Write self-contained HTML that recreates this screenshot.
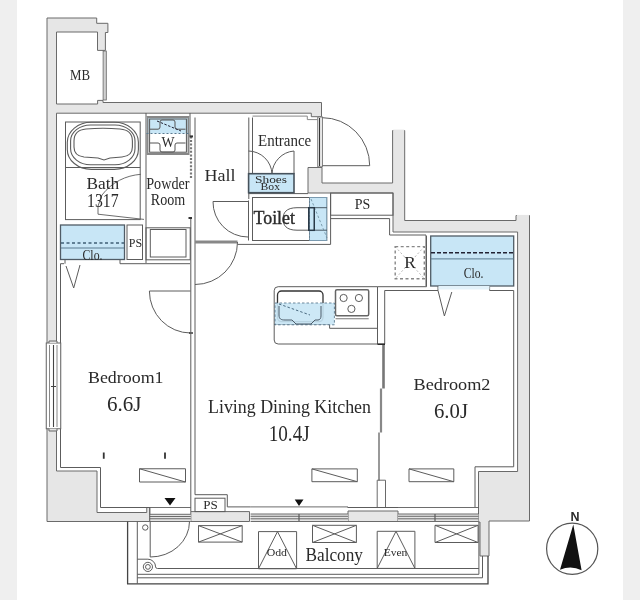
<!DOCTYPE html>
<html><head><meta charset="utf-8">
<style>
html,body{margin:0;padding:0;background:#fff;}
body{width:640px;height:600px;overflow:hidden;position:relative;}
svg{position:absolute;left:0;top:0;display:block;}
text{font-family:"Liberation Serif",serif;fill:#2a2a2a;}
.tx{filter:grayscale(1);}
</style></head><body>
<svg width="640" height="600" viewBox="0 0 640 600">
<rect x="0" y="0" width="640" height="600" fill="#fff"/>
<rect x="0" y="0" width="17" height="600" fill="#efefef"/>
<rect x="623" y="0" width="17" height="600" fill="#efefef"/>
<g fill="#e6e6e6" stroke="#6a6a6a" stroke-width="1">

<path d="M47,18 H96.7 V23.3 H107.9 V32.5 H105.4 V50.4 H97.5 V32 H56.5 V104 H97.6 V100.4 H103 V102.5 H321.5 V116.7 H317.2 H311.3 V113.2 H56.5 V471 H97 V512.5 H146.75 V507.5 H149.75 V521.5 H47 Z"/>
<path d="M308,167.5 H322 V183 H392.6 V130.5 H404.7 V220.5 H516 V215.5 H529.5 V521 H489 V556 H480 V522 H478.5 V471.5 H517.6 V232 H393 V193 H308 Z"/>
<path d="M190.8,511.6 H249.5 V521.5 H190.8 Z"/>
<path d="M348,511 H398 V521.5 H348 Z"/>
<path d="M377.2,480.2 H385.5 V507.5 H377.2 Z" fill="#fff"/>
<rect x="393.2" y="129.6" width="11" height="1.6" fill="#e6e6e6" stroke="none"/>
<rect x="516.8" y="214.9" width="12.2" height="1.6" fill="#e6e6e6" stroke="none"/>

</g>
<g fill="none" stroke="#5c5c5c" stroke-width="1">

<!-- MB door strip -->
<rect x="103.1" y="51" width="3.2" height="49" fill="#d0d0d0" stroke="#666" stroke-width="0.8"/>
<!-- bath -->
<rect x="65.5" y="122" width="74.7" height="97.6"/>
<path d="M65.5,167.5 H140.2"/>
<rect x="67.3" y="122.3" width="71.1" height="47.1" rx="24" ry="20" stroke-width="1.1"/>
<rect x="70.6" y="125" width="64.4" height="39.8" rx="20" ry="16" stroke-width="1.1"/>
<path d="M86,129 Q103,127.5 120,129 Q132.4,130 132.4,141 V147 Q132.4,156 122,157 L110,158 L104,160 L98,158 L84,157 Q74,156 74,147 V141 Q74,130 86,129 Z" stroke-width="1.1"/>
<path d="M140.8,174.3 C126,175.5 112,182 102,195 L98,206 V214.2 L144,219.4" stroke-width="0.9"/>
<path d="M146,113 V263"/>
<!-- powder room -->
<path d="M190,113 V136.4 M195,117.5 V494.7"/>
<path d="M191,136.4 V179" stroke-dasharray="2,1.6" stroke-width="2.2" stroke="#777"/><path d="M189.3,136.4 H193" stroke="#333" stroke-width="2"/>
<rect x="146" y="227.8" width="44.2" height="32"/>
<rect x="150.3" y="229.5" width="35.7" height="27.5"/>
<!-- hall right double -->
<path d="M248.8,117.5 V199 M252.5,117.5 V173.7 M248.5,193.6 H308"/>
<!-- hall door -->
<path d="M248,201.5 H213 A35,35 0 0 0 248,237"/>
<path d="M248.5,200.5 V240.5 M252.5,197.5 V240.5"/>
<!-- hall bottom -->
<path d="M195,242 H237.5" stroke="#888" stroke-width="3"/>
<path d="M237.5,244.4 H330.6 V193.6"/>
<path d="M237.5,242 A42.5,42.5 0 0 1 195,284.5"/>
<path d="M190.6,291 H149.4 A41.2,42 0 0 0 190.6,333"/>
<path d="M189,333 H193" stroke="#333" stroke-width="1.5"/>
<!-- toilet -->
<rect x="252.5" y="197.5" width="74.2" height="43"/>
<path d="M309,207.7 H297 C286,207.7 283,213 283,219 C283,225 286,230.2 297,230.2 H309"/>
<!-- entrance -->
<path d="M248.5,151 A24,24 0 0 1 272,173.7 A24,24 0 0 1 294,151 V173.7"/>
<path d="M252.5,116.1 H307.3 V119.6 H317.5" stroke="#888"/>
<rect x="317.75" y="117" width="4.65" height="49.8" fill="#f4f4f4" stroke="#777"/><path d="M319.6,118 V166" stroke="#222" stroke-width="1"/><path d="M322.4,165.7 H369.7 A47.3,48 0 0 0 322.4,117.7"/>
<!-- PS top -->
<rect x="330.6" y="193" width="62.4" height="22.2"/>
<path d="M330.6,218.6 H389.6 V235 H426 V286 M389.6,235"/>
<!-- R dashed -->
<rect x="395.2" y="246.6" width="29.1" height="32.1" stroke-dasharray="3,2.5" stroke="#888" stroke-width="1.4"/>
<path d="M395.2,246.6 L424.3,278.7 M424.3,246.6 L395.2,278.7" stroke-dasharray="2,2" stroke="#999" stroke-width="0.7"/>
<!-- bedroom1 top / closet -->
<path d="M60.5,263.7 H64 M120,263.7 H190"/>
<path d="M65,260 V263.7 M120,260 V263.7"/>
<path d="M66,266 L73.7,288 L80,265"/>
<rect x="127" y="225" width="15.5" height="34.5"/>
<path d="M60.5,263.7 V467.5 H100.5 V507.5 H150"/>
<!-- bedroom1 right wall -->

<!-- window left -->
<rect x="46.25" y="343" width="14.5" height="85.75" fill="#fff" stroke="#666"/>
<path d="M49,343 V341 H57 V343 M49,428.75 V431 H57 V428.75" fill="#e4e4e4" stroke="#666"/>
<path d="M49.5,345 V427 M57,345 V427" stroke="#888"/>
<path d="M53.5,345 V427" stroke="#444" stroke-width="1.1"/>
<path d="M51,386.5 H56" stroke="#444"/>
<!-- kitchen -->
<path d="M377.5,286.7 H278.2 Q274.2,286.7 274.2,290.7 V340 Q274.2,344 278.2,344 H377.5 Z"/>
<path d="M274.2,324.5 H329.6 V328.3 H377.5"/>
<rect x="277.5" y="291" width="45.5" height="30.6" rx="4" stroke="#333" stroke-width="1.3"/>

<rect x="335.5" y="289.8" width="33.2" height="26" rx="1.5" stroke="#666" stroke-width="1.5"/>
<path d="M335.5,318.75 H368.7" stroke="#777"/>
<circle cx="343.6" cy="298" r="3.6"/>
<circle cx="358.9" cy="298" r="3.6"/>
<circle cx="351.4" cy="308.9" r="3.6"/>
<path d="M377.5,286.7 H426.5 M384.7,344 V290.5 M377.5,344.2 H384.7"/>
<path d="M383.5,344 V388.5" stroke="#777" stroke-width="2.6"/>
<path d="M381,388.5 V432.5" stroke="#888" stroke-width="2.2"/>
<path d="M379,432.5 V480.5" stroke="#555" stroke-width="1.2"/>
<path d="M377.5,344.2 H385" stroke="#222" stroke-width="1.4"/>
<!-- bedroom2 -->
<path d="M426.5,236 V286.7 M384.7,290.5 H438 V286 M489.6,286 V290.5 H513.7 V466.8 H475 V507"/>
<path d="M438,290.5 L444.4,316 L451.8,292"/>

<!-- LDK bottom -->
<path d="M190.8,218 V511.6"/><path d="M188.5,218 H192" stroke-width="2" stroke="#333"/>
<path d="M195,494.7 H227.3 V506.9 H250.6"/>
<rect x="195" y="498.2" width="30" height="13.4"/>

<path d="M347.5,507.5 H398"/>
<!-- windows -->
<rect x="149.75" y="514.3" width="41" height="7.2" fill="#e4e4e4" stroke="none"/>
<rect x="250.6" y="514" width="97.4" height="7.5" fill="#e4e4e4" stroke="none"/>
<rect x="398" y="514" width="80.5" height="7.5" fill="#e4e4e4" stroke="none"/>
<path d="M149.75,507.5 H190.8 M149.75,514.3 H190.8 M149.75,516.5 H190.8 M149.75,518.75 H190.8 M149.75,521.5 H190.8 M149.75,507.5 V521.5" stroke-width="0.9"/>
<path d="M250.6,506.9 H348 M250.6,514 H348 M250.6,516.3 H348 M250.6,518.8 H348 M250.6,521.5 H348" stroke-width="0.9"/>
<path d="M398,507.5 H478.5 M398,514 H478.5 M398,516.3 H478.5 M398,518.8 H478.5 M398,521.5 H478.5" stroke-width="0.9"/>
<path d="M299,514 V521 M435,514 V521" stroke-width="1.2"/>
<path d="M164.5,498 H175.5 L170,505.5 Z M294.7,499.4 H303.5 L299,506 Z" fill="#111" stroke="none"/>
<!-- heaters -->
<path d="M139.5,468.75 H185.5 V482 H139.5 Z M139.5,468.75 L185.5,482"/>
<path d="M311.9,468.9 H357.3 V481.7 H311.9 Z M311.9,468.9 L357.3,481.7"/>
<path d="M409,468.9 H453.8 V481.7 H409 Z M409,468.9 L453.8,481.7"/>
<path d="M103.75,452.5 V458.75 M165,452.5 V458.75" stroke-width="1.8" stroke="#333"/>
<!-- balcony -->
<path d="M127.6,521.5 V583.8 H488 V556" stroke="#444" stroke-width="1.3"/>
<path d="M137.3,521.5 V583.8 M137.3,577.8 H482.5 V556"/>
<path d="M137.3,574.3 H478.9 V522" />

<path d="M150.2,521.5 V557 A39,35.5 0 0 0 189.5,521.5"/>
<circle cx="145.25" cy="527.5" r="2.7"/>
<circle cx="147.9" cy="566.9" r="4.6"/>
<circle cx="147.9" cy="566.9" r="2.4"/>
<path d="M137.3,559.2 H147.9 A7.7,7.7 0 0 1 155.6,566.9 Q155.8,568.5 157.5,568.5 H478.9"/>
<path d="M198.5,525.6 H242.2 V542.1 H198.5 Z M198.5,525.6 L242.2,542.1 M198.5,542.1 L242.2,525.6"/>
<path d="M312.5,525.3 H356.4 V542.5 H312.5 Z M312.5,525.3 L356.4,542.5 M312.5,542.5 L356.4,525.3"/>
<path d="M435,525.3 H478.1 V542.5 H435 Z M435,525.3 L478.1,542.5 M435,542.5 L478.1,525.3"/>
<path d="M258.5,531.6 H296.6 V568.75 H258.5 Z M258.5,568.75 L277.5,531.6 L296.6,568.75"/>
<path d="M377.2,531.3 H414.9 V568.4 H377.2 Z M377.2,568.4 L396,531.3 L414.9,568.4"/>
<!-- compass -->
<circle cx="572.2" cy="548.7" r="25.6" stroke="#555" stroke-width="1.2"/>
<path d="M573.3,524.5 L560,569.8 Q571,565 581.6,570.3 Z" fill="#111" stroke="none"/>

</g>
<g>

<rect x="60.5" y="225" width="64" height="34.5" fill="#c8e6f6" stroke="#505c66" stroke-width="1.3"/>
<path d="M61,243 H124" stroke="#3f5f75" stroke-width="1.6" stroke-dasharray="3,2.5"/>
<path d="M61,248 H124" stroke="#5a7a90"/>
<rect x="146.5" y="117" width="43" height="16.5" fill="#c8e6f6" stroke="none"/>
<rect x="147.5" y="117" width="41" height="37" fill="none" stroke="#888" stroke-width="2"/><rect x="149.6" y="119" width="36.8" height="33.2" fill="none" stroke="#555" stroke-width="1"/>
<path d="M146.5,133.5 H189.5" stroke="#5a7a90" stroke-dasharray="2,2"/>
<path d="M150,129.2 H158 Q160,129.2 160,127 V122 Q160,120 162,120 H173 Q175,120 175,122 V127 Q175,129.2 177,129.2 H185.5 M150,143 H158 Q160,143 160,145 V150 Q160,152 162,152 H173 Q175,152 175,150 V145 Q175,143 177,143 H185.5" fill="none" stroke="#555" stroke-width="1"/>
<path d="M157,121 L181,131" stroke="#223" stroke-dasharray="2.5,1.5" stroke-width="1"/>
<rect x="248.6" y="173.7" width="45.4" height="19" fill="#c8e6f6" stroke="#46525c" stroke-width="1.6"/>
<rect x="309.5" y="197.5" width="17.2" height="43" fill="#c8e6f6" stroke="#7a9ab0"/>
<path d="M309.5,197.5 V240.5" stroke="#6a8090" stroke-dasharray="2,1.5"/>
<path d="M314.2,207.7 H327 M314.2,230.2 H327" stroke="#4a5a66" stroke-width="1"/><path d="M311,199 L327,238" stroke="#6a8a9a" stroke-width="0.8" stroke-dasharray="2.5,2"/>
<rect x="308.75" y="207.7" width="5.5" height="22.6" fill="none" stroke="#2a3a48" stroke-width="1.5"/>
<rect x="275" y="303" width="59.4" height="21.8" fill="#c8e6f6" stroke="#5a7a90" stroke-dasharray="2.5,2" opacity="0.9"/>
<path d="M279,306 V315 C279,319 281,320 285,320 H292 L296,324 H311 L315,320 H318 C320,320 321,318 321,316 V306" fill="none" stroke="#4a5a68" stroke-width="1"/>
<path d="M279,304 L310,315" stroke="#4a6a80" stroke-dasharray="2.5,2"/>
<rect x="430.7" y="236" width="83" height="50" fill="#c8e6f6" stroke="#505c66" stroke-width="1.3"/><rect x="438.5" y="286" width="51" height="3.5" fill="#e3f2fa"/>
<path d="M431,252.7 H513.7" stroke="#223" stroke-width="1.6" stroke-dasharray="4,2"/>
<path d="M431,258.9 H513.7" stroke="#5a7a90"/>

</g>
<g class="tx">

<text x="70" y="79.5" font-size="14.5" textLength="20" lengthAdjust="spacingAndGlyphs">MB</text>
<text x="86.5" y="189" font-size="17" textLength="32.7" lengthAdjust="spacingAndGlyphs">Bath</text>
<text x="87" y="206.7" font-size="18.5" textLength="31.5" lengthAdjust="spacingAndGlyphs">1317</text>
<text x="146.2" y="188.7" font-size="16.5" textLength="43.3" lengthAdjust="spacingAndGlyphs">Powder</text>
<text x="150.8" y="205" font-size="17.5" textLength="34.5" lengthAdjust="spacingAndGlyphs">Room</text>
<text x="204.5" y="180.5" font-size="17" textLength="31" lengthAdjust="spacingAndGlyphs">Hall</text>
<text x="258" y="145.7" font-size="16" textLength="53.2" lengthAdjust="spacingAndGlyphs">Entrance</text>
<text x="253.5" y="223.6" font-size="19.5" stroke="#2a2a2a" stroke-width="0.4" textLength="41.5" lengthAdjust="spacingAndGlyphs">Toilet</text>
<text x="255" y="183.2" font-size="11" textLength="32" lengthAdjust="spacingAndGlyphs" fill="#3a5060">Shoes</text>
<text x="260.5" y="190" font-size="11" textLength="19.5" lengthAdjust="spacingAndGlyphs" fill="#3a5060">Box</text>
<text x="354.7" y="209.4" font-size="14" textLength="15.5" lengthAdjust="spacingAndGlyphs">PS</text>
<text x="404.2" y="268.3" font-size="17" textLength="11.5" lengthAdjust="spacingAndGlyphs">R</text>
<text x="463.8" y="277.5" font-size="14.5" textLength="19.7" lengthAdjust="spacingAndGlyphs" fill="#3a5060">Clo.</text>
<text x="82.5" y="260" font-size="15" textLength="20" lengthAdjust="spacingAndGlyphs" fill="#3a5060">Clo.</text>
<text x="128.75" y="246.5" font-size="13.5" textLength="13.3" lengthAdjust="spacingAndGlyphs">PS</text>
<text x="161.5" y="147" font-size="14" textLength="13" lengthAdjust="spacingAndGlyphs">W</text>
<text x="88" y="383" font-size="17.5" textLength="75.5" lengthAdjust="spacingAndGlyphs">Bedroom1</text>
<text x="107" y="411" font-size="21" textLength="34.5" lengthAdjust="spacingAndGlyphs">6.6J</text>
<text x="208" y="412.6" font-size="18" textLength="163" lengthAdjust="spacingAndGlyphs">Living Dining Kitchen</text>
<text x="268.7" y="441" font-size="22.5" textLength="41" lengthAdjust="spacingAndGlyphs">10.4J</text>
<text x="413.5" y="390.2" font-size="17.5" textLength="77" lengthAdjust="spacingAndGlyphs">Bedroom2</text>
<text x="434" y="418" font-size="21.5" textLength="34" lengthAdjust="spacingAndGlyphs">6.0J</text>
<text x="203.2" y="509.4" font-size="13" textLength="14.5" lengthAdjust="spacingAndGlyphs">PS</text>
<text x="305.5" y="560.8" font-size="18.5" textLength="57.5" lengthAdjust="spacingAndGlyphs">Balcony</text>
<text x="575" y="521.4" font-size="12.5" font-weight="bold" text-anchor="middle" style="font-family:'Liberation Sans',sans-serif" fill="#111">N</text>
<text x="266.7" y="556" font-size="10" textLength="20.3" lengthAdjust="spacingAndGlyphs">Odd</text>
<text x="383.7" y="556" font-size="10" textLength="23.7" lengthAdjust="spacingAndGlyphs">Even</text>

</g>
</svg>
</body></html>
